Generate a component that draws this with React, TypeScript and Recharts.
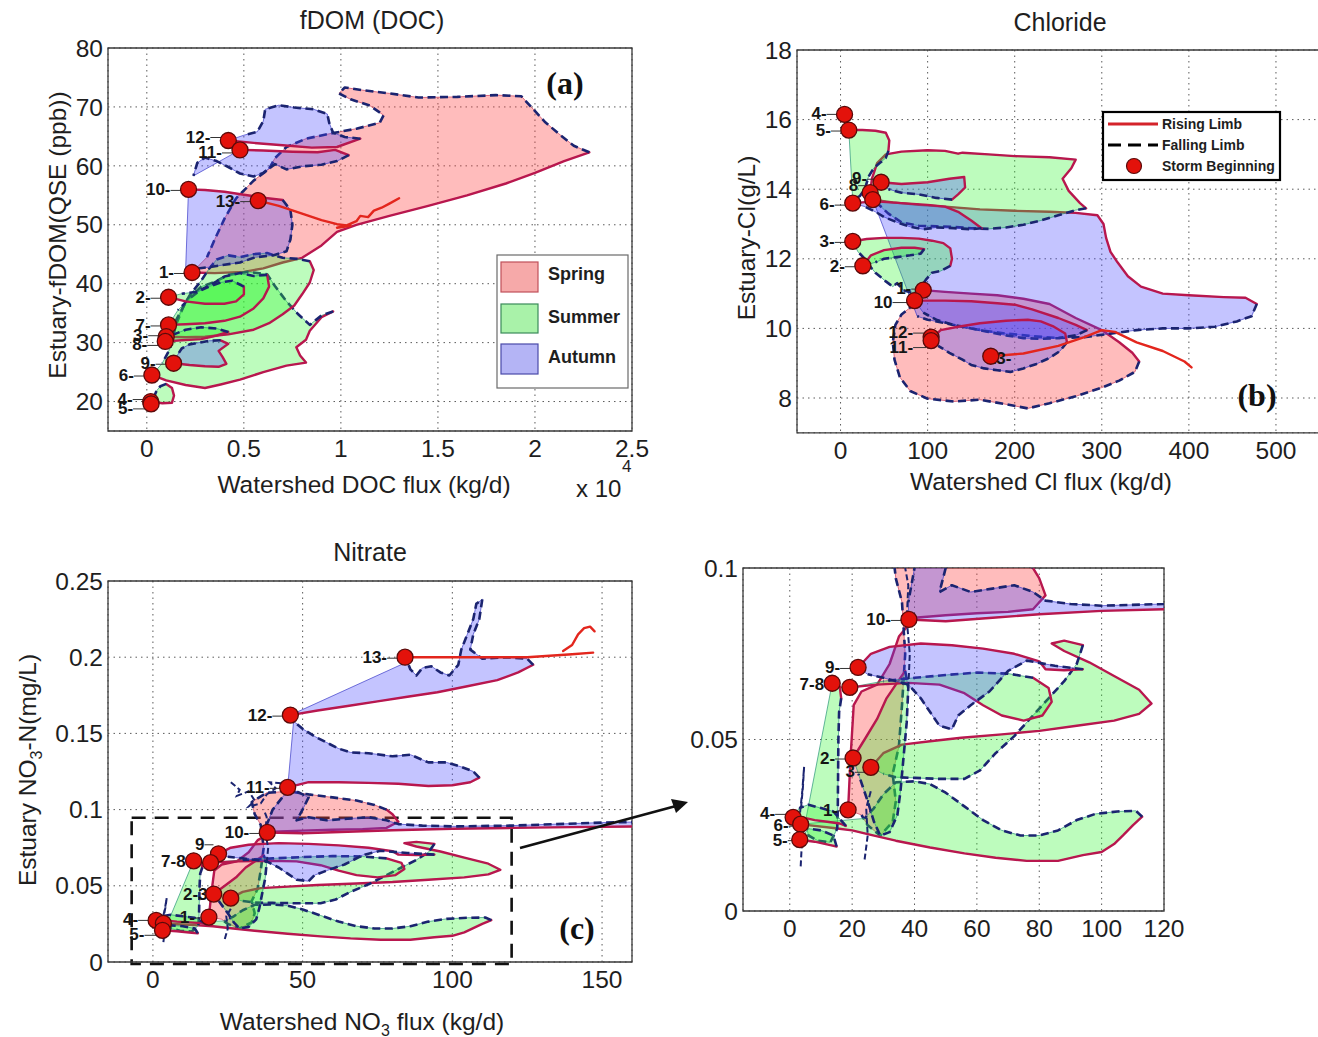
import React from 'react';
import { ScatterChart, Scatter, XAxis, YAxis, CartesianGrid, ReferenceArea } from 'recharts';

type Pt = [number, number];
type Season = 'spring' | 'summer' | 'autumn' | 'open' | 'trace';
interface Loop { storm: string; season: Season; rise: Pt[]; fall: Pt[] }
interface Start { storm: string; x: number; y: number }

// ---------- fDOM (DOC) ----------
const docXTicks = [0, 0.5, 1, 1.5, 2, 2.5];
const docYTicks = [20, 30, 40, 50, 60, 70, 80];

const docStarts: Start[] = [
  { storm: '12', x: 0.42, y: 64.3 },
  { storm: '11', x: 0.48, y: 62.7 },
  { storm: '10', x: 0.215, y: 56 },
  { storm: '13', x: 0.574, y: 54.1 },
  { storm: '1', x: 0.233, y: 41.9 },
  { storm: '2', x: 0.112, y: 37.7 },
  { storm: '7', x: 0.112, y: 33 },
  { storm: '3', x: 0.1, y: 31 },
  { storm: '8', x: 0.095, y: 30.2 },
  { storm: '9', x: 0.138, y: 26.5 },
  { storm: '6', x: 0.026, y: 24.5 },
  { storm: '4', x: 0.02, y: 20 },
  { storm: '5', x: 0.022, y: 19.6 },
];

const docLoops: Loop[] = [
  {
    storm: '1', season: 'spring',
    rise: [[0.233, 41.9], [0.35, 41.8], [0.5, 42], [0.6, 42.6], [0.7, 43.6], [0.8, 44.4], [0.9, 46.5], [0.98, 48.8], [1.08, 50], [1.25, 51.5], [1.45, 53.2], [1.65, 55], [1.85, 57], [2.0, 58.8], [2.15, 60.8], [2.28, 62.3]],
    fall: [[2.2, 63.4], [2.12, 65.5], [2.05, 67.5], [1.98, 70], [1.93, 71.8], [1.8, 72], [1.6, 71.7], [1.4, 71.6], [1.25, 72.3], [1.12, 72.8], [1.02, 73.3], [0.99, 72.3], [1.05, 71.3], [1.15, 70.2], [1.22, 68.6], [1.2, 67.3], [1.08, 66.3], [0.95, 65.5], [0.82, 64.6], [0.72, 63.2], [0.66, 61.3], [0.63, 59.5], [0.55, 57.5], [0.46, 54.5], [0.4, 51], [0.35, 47.5], [0.31, 44.5]],
  },
  {
    storm: '6', season: 'summer',
    rise: [[0.026, 24.5], [0.1, 23.6], [0.2, 22.8], [0.3, 22.3], [0.38, 22.9], [0.48, 23.7], [0.6, 25], [0.72, 26.1], [0.82, 26.6], [0.79, 27.8], [0.77, 29.2], [0.82, 30.5], [0.84, 32], [0.9, 34.3], [0.96, 35.3]],
    fall: [[0.9, 34.6], [0.84, 33], [0.78, 34.8], [0.72, 37], [0.66, 39.6], [0.62, 41.6], [0.52, 42], [0.42, 41.5], [0.35, 40.3], [0.28, 39.5], [0.2, 37], [0.15, 33], [0.12, 29], [0.08, 26.5]],
  },
  {
    storm: '3', season: 'summer',
    rise: [[0.1, 31], [0.2, 30.9], [0.3, 31], [0.42, 31.4], [0.55, 32.2], [0.63, 33.3], [0.7, 34.8], [0.76, 36.3], [0.8, 38.2], [0.84, 40.2], [0.86, 42.3], [0.84, 43.8]],
    fall: [[0.78, 44.2], [0.7, 44.4], [0.62, 45.2], [0.55, 45], [0.48, 44.5], [0.42, 44.8], [0.36, 44.1], [0.32, 42.5], [0.28, 40.5], [0.22, 38], [0.17, 35], [0.13, 32.5]],
  },
  {
    storm: '7', season: 'summer',
    rise: [[0.112, 33], [0.2, 33.1], [0.3, 33.3], [0.4, 33.7], [0.48, 34.4], [0.55, 35.8], [0.6, 37.5], [0.63, 39.5], [0.62, 41.5]],
    fall: [[0.55, 41.3], [0.48, 41.8], [0.4, 41.2], [0.34, 40], [0.28, 39], [0.22, 37.5], [0.16, 35.5]],
  },
  {
    storm: '2', season: 'summer',
    rise: [[0.112, 37.7], [0.2, 37], [0.3, 36.6], [0.4, 36.6], [0.46, 37], [0.5, 38.2], [0.5, 39.5]],
    fall: [[0.44, 40.5], [0.38, 40.2], [0.32, 39.5], [0.26, 38.6], [0.18, 38.3]],
  },
  {
    storm: '8', season: 'summer',
    rise: [[0.095, 30.2], [0.18, 30.4], [0.28, 30.6], [0.36, 31.2], [0.42, 31.8]],
    fall: [[0.36, 32.4], [0.28, 32.6], [0.2, 32.2], [0.14, 31.4]],
  },
  {
    storm: '9', season: 'autumn',
    rise: [[0.138, 26.5], [0.22, 26.2], [0.3, 26], [0.37, 25.9], [0.41, 26.4], [0.39, 27.6], [0.37, 28.6], [0.42, 29.8], [0.38, 30.4]],
    fall: [[0.32, 30.3], [0.27, 30], [0.22, 29.7], [0.18, 29], [0.16, 28]],
  },
  {
    storm: '4', season: 'summer',
    rise: [[0.02, 20], [0.08, 19.7], [0.13, 19.8], [0.14, 21], [0.13, 22.3], [0.1, 23]],
    fall: [[0.07, 22.6], [0.05, 21.8], [0.04, 21]],
  },
  {
    storm: '10', season: 'autumn',
    rise: [[0.215, 56], [0.3, 55.9], [0.4, 55.6], [0.5, 55.1], [0.6, 54.6], [0.7, 54.2]],
    fall: [[0.74, 52.5], [0.75, 50], [0.74, 47.5], [0.72, 45.5], [0.65, 44.8], [0.56, 44.5], [0.48, 43.6], [0.4, 43.2], [0.32, 42.8], [0.24, 42.5], [0.2, 42.2]],
  },
  {
    storm: '11', season: 'autumn',
    rise: [[0.48, 62.7], [0.6, 62.6], [0.75, 62.4], [0.88, 62.3], [0.97, 62.7], [1.04, 61.8]],
    fall: [[0.98, 60.8], [0.9, 60.2], [0.8, 59.9], [0.72, 59.4], [0.66, 60.3], [0.6, 58.8], [0.55, 58.2], [0.48, 58.7], [0.42, 59.8], [0.36, 60.8], [0.3, 61.4], [0.26, 60.5], [0.24, 58.3]],
  },
  {
    storm: '12', season: 'autumn',
    rise: [[0.42, 64.3], [0.55, 63.9], [0.7, 63.5], [0.85, 63.1], [0.98, 63.2], [1.1, 64.6]],
    fall: [[1.02, 64.9], [0.96, 65.6], [0.94, 67.3], [0.93, 68.8], [0.86, 69.6], [0.76, 69.9], [0.68, 70.3], [0.61, 69.6], [0.6, 67.6], [0.57, 65.8], [0.5, 65.2]],
  },
  {
    storm: '13', season: 'open',
    rise: [[0.574, 54.1], [0.68, 53.2], [0.8, 51.9], [0.9, 50.8], [0.98, 50.1], [1.05, 49.8], [0.98, 49.5], [1.03, 49.9], [1.08, 50.6], [1.1, 51.5], [1.14, 51.3], [1.17, 52.4], [1.21, 52.9], [1.25, 53.6], [1.3, 54.5]],
    fall: [],
  },
];

// ---------- Chloride ----------
const clXTicks = [0, 100, 200, 300, 400, 500];
const clYTicks = [8, 10, 12, 14, 16, 18];

const clStarts: Start[] = [
  { storm: '4', x: 4.6, y: 16.15 },
  { storm: '5', x: 9.5, y: 15.7 },
  { storm: '9', x: 46.6, y: 14.2 },
  { storm: '8', x: 34, y: 13.9 },
  { storm: '6', x: 14, y: 13.6 },
  { storm: '7', x: 37, y: 13.7 },
  { storm: '3', x: 14, y: 12.5 },
  { storm: '2', x: 25.6, y: 11.8 },
  { storm: '1', x: 95, y: 11.1 },
  { storm: '10', x: 85, y: 10.8 },
  { storm: '12', x: 104, y: 9.75 },
  { storm: '11', x: 104, y: 9.65 },
  { storm: '13', x: 172.5, y: 9.2 },
];

const clLoops: Loop[] = [
  {
    storm: '1', season: 'spring',
    rise: [[95, 11.1], [120, 11.05], [150, 11.0], [180, 10.95], [210, 10.85], [240, 10.7], [270, 10.3], [300, 9.95], [320, 9.6], [335, 9.3], [343, 9.05]],
    fall: [[338, 8.75], [320, 8.5], [300, 8.3], [270, 8.05], [240, 7.85], [215, 7.7], [190, 7.82], [160, 7.95], [130, 7.9], [100, 7.98], [80, 8.2], [68, 8.6], [62, 9.1], [60, 9.6], [63, 10.1], [70, 10.4], [80, 10.6]],
  },
  {
    storm: '7', season: 'autumn',
    rise: [[37, 13.7], [60, 13.62], [90, 13.55], [120, 13.5], [160, 13.42], [200, 13.38], [240, 13.35], [270, 13.32], [295, 13.25], [302, 13.0], [305, 12.6], [310, 12.2], [318, 11.9], [330, 11.5], [345, 11.2], [370, 11.0], [400, 10.95], [440, 10.9], [465, 10.88], [478, 10.7]],
    fall: [[472, 10.35], [455, 10.2], [430, 10.05], [400, 10.0], [370, 10.0], [340, 9.95], [310, 9.85], [280, 9.75], [250, 9.72], [220, 9.78], [190, 9.85], [160, 9.95], [130, 10.1], [100, 10.25], [88, 10.35]],
  },
  {
    storm: '8', season: 'summer',
    rise: [[34, 13.9], [36, 14.3], [42, 14.75], [52, 15.0], [70, 15.08], [100, 15.12], [120, 15.1], [135, 15.02], [140, 15.05], [170, 15.0], [200, 14.95], [240, 14.92], [270, 14.85], [265, 14.6], [255, 14.3], [262, 13.95], [275, 13.6], [282, 13.45]],
    fall: [[270, 13.4], [250, 13.25], [230, 13.1], [210, 12.98], [190, 12.9], [170, 12.86], [150, 12.88], [130, 12.92], [110, 12.93], [90, 12.95], [70, 13.05], [55, 13.3], [42, 13.6]],
  },
  {
    storm: '5', season: 'summer',
    rise: [[9.5, 15.7], [25, 15.7], [40, 15.68], [52, 15.62], [56, 15.4], [55, 15.1]],
    fall: [[52, 14.9], [45, 14.75], [38, 14.6], [32, 14.35], [28, 14.0], [22, 13.8], [14, 13.7]],
  },
  {
    storm: '6', season: 'autumn',
    rise: [[14, 13.6], [40, 13.65], [70, 13.6], [100, 13.55], [120, 13.5], [135, 13.35], [150, 13.1], [162, 12.88]],
    fall: [[150, 12.85], [130, 12.88], [110, 12.9], [95, 12.85], [80, 12.92], [65, 13.05], [50, 13.2], [40, 13.35], [28, 13.5]],
  },
  {
    storm: '9', season: 'autumn',
    rise: [[46.6, 14.2], [70, 14.15], [100, 14.2], [125, 14.3], [142, 14.35], [143, 14.05], [135, 13.85], [128, 13.7]],
    fall: [[110, 13.75], [90, 13.85], [70, 13.9], [55, 14.0]],
  },
  {
    storm: '3', season: 'summer',
    rise: [[14, 12.5], [30, 12.57], [50, 12.6], [70, 12.6], [90, 12.58], [105, 12.52], [118, 12.45], [126, 12.3], [128, 12.0], [126, 11.8]],
    fall: [[115, 11.65], [105, 11.6], [98, 11.4], [90, 11.1], [82, 11.02], [72, 11.1], [65, 11.3], [60, 11.2], [52, 11.35], [45, 11.5], [40, 11.6], [35, 11.75], [28, 12.0], [20, 12.2]],
  },
  {
    storm: '2', season: 'summer',
    rise: [[25.6, 11.8], [35, 12.1], [50, 12.25], [70, 12.32], [85, 12.32], [96, 12.28]],
    fall: [[92, 12.15], [80, 12.1], [65, 12.05], [50, 12.0], [40, 11.9]],
  },
  {
    storm: '10', season: 'autumn',
    rise: [[85, 10.8], [120, 10.8], [150, 10.78], [180, 10.72], [200, 10.68], [220, 10.55], [250, 10.3], [270, 10.1], [283, 9.95]],
    fall: [[270, 9.8], [250, 9.72], [230, 9.7], [210, 9.72], [190, 9.8], [170, 9.9], [150, 10.0], [130, 10.1], [110, 10.25], [95, 10.45]],
  },
  {
    storm: '11', season: 'autumn',
    rise: [[104, 9.7], [115, 9.95], [135, 10.05], [160, 10.15], [190, 10.22], [215, 10.25], [230, 10.2], [245, 10.05], [258, 9.85], [260, 9.6]],
    fall: [[252, 9.35], [240, 9.15], [225, 8.98], [210, 8.85], [195, 8.75], [180, 8.8], [165, 8.85], [150, 8.95], [140, 9.1], [125, 9.3], [112, 9.5]],
  },
  {
    storm: '13', season: 'open',
    rise: [[172.5, 9.2], [210, 9.28], [250, 9.5], [280, 9.75], [300, 9.95], [315, 9.9], [340, 9.6], [370, 9.35], [395, 9.05], [403, 8.88]],
    fall: [],
  },
];

// ---------- Nitrate (also used for the enlarged low-range view) ----------
const no3XTicks = [0, 50, 100, 150];
const no3YTicks = [0, 0.05, 0.1, 0.15, 0.2, 0.25];
const zoomXTicks = [0, 20, 40, 60, 80, 100, 120];
const zoomYTicks = [0, 0.05, 0.1];

const no3Starts: Start[] = [
  { storm: '13', x: 84.2, y: 0.2 },
  { storm: '12', x: 45.9, y: 0.162 },
  { storm: '11', x: 45, y: 0.1146 },
  { storm: '10', x: 38.2, y: 0.085 },
  { storm: '9', x: 21.9, y: 0.071 },
  { storm: '7', x: 13.6, y: 0.0664 },
  { storm: '8', x: 19.25, y: 0.0652 },
  { storm: '2', x: 20.3, y: 0.0446 },
  { storm: '3', x: 26, y: 0.0419 },
  { storm: '1', x: 18.7, y: 0.0295 },
  { storm: '4', x: 1.07, y: 0.0273 },
  { storm: '6', x: 3.5, y: 0.0253 },
  { storm: '5', x: 3.2, y: 0.0208 },
];

const no3Loops: Loop[] = [
  {
    storm: '1', season: 'spring',
    rise: [[18.7, 0.0295], [19.5, 0.045], [20.5, 0.06], [23, 0.064], [28, 0.066], [32, 0.072], [35, 0.08], [40, 0.0855], [50, 0.0862], [60, 0.0868], [70, 0.0872], [78, 0.088], [82, 0.092], [80, 0.097], [78, 0.1]],
    fall: [[74, 0.103], [68, 0.106], [60, 0.108], [52, 0.11], [45, 0.112], [38, 0.111], [33, 0.105], [34, 0.097], [36, 0.09], [37, 0.075], [36, 0.06], [35, 0.048], [33, 0.04], [34, 0.032], [33, 0.026], [29, 0.022], [25, 0.025], [23, 0.028]],
  },
  {
    storm: '6', season: 'summer',
    rise: [[3.5, 0.0253], [8, 0.0248], [14, 0.0242], [20, 0.0235], [26, 0.0222], [34, 0.0205], [45, 0.0185], [56, 0.0168], [66, 0.0155], [76, 0.0146], [86, 0.0146], [94, 0.0163], [100, 0.0172], [104, 0.0195], [107, 0.0222], [110, 0.025], [113, 0.0275]],
    fall: [[111, 0.0292], [105, 0.029], [98, 0.0283], [92, 0.0265], [86, 0.0235], [80, 0.022], [74, 0.022], [68, 0.0235], [62, 0.0265], [56, 0.0305], [50, 0.0345], [45, 0.037], [40, 0.0378], [34, 0.0375], [30, 0.034], [27, 0.03], [24, 0.027]],
  },
  {
    storm: '3', season: 'summer',
    rise: [[26, 0.0419], [30, 0.046], [36, 0.0485], [45, 0.0495], [55, 0.0505], [68, 0.0515], [80, 0.0525], [92, 0.054], [104, 0.0555], [112, 0.0575], [116, 0.0605], [112, 0.0645], [104, 0.0685], [96, 0.0725], [88, 0.0758], [84, 0.078], [88, 0.0788], [94, 0.0775]],
    fall: [[92, 0.072], [88, 0.067], [83, 0.062], [78, 0.057], [72, 0.051], [66, 0.046], [61, 0.041], [56, 0.0385], [48, 0.0385], [40, 0.0388], [34, 0.039], [30, 0.04]],
  },
  {
    storm: '2', season: 'summer',
    rise: [[20.3, 0.0446], [24, 0.05], [28, 0.056], [31, 0.062], [34, 0.066], [37, 0.07]],
    fall: [[38, 0.065], [37.5, 0.055], [36.5, 0.045], [35.5, 0.035], [34.5, 0.028], [32, 0.023], [29, 0.022], [27, 0.026], [25, 0.032], [22, 0.04]],
  },
  {
    storm: '7', season: 'summer',
    rise: [[13.6, 0.0664], [16, 0.0655], [16.5, 0.062]],
    fall: [[15.8, 0.058], [15.6, 0.05], [15.5, 0.04], [15.4, 0.03], [15.2, 0.024], [13, 0.02], [9, 0.0205], [6, 0.022], [5, 0.026]],
  },
  {
    storm: '4', season: 'summer',
    rise: [[1.07, 0.0273], [4, 0.0273], [8, 0.0265], [12, 0.026], [16, 0.0255], [18, 0.0248]],
    fall: [[14, 0.029], [10, 0.03], [6, 0.031], [3, 0.03]],
  },
  {
    storm: '5', season: 'summer',
    rise: [[3.2, 0.0208], [8, 0.0202], [13, 0.0192], [15, 0.0188]],
    fall: [[14, 0.022], [10, 0.0235], [6, 0.024]],
  },
  {
    storm: '8', season: 'summer',
    rise: [[19.25, 0.0652], [28, 0.066], [38, 0.0665], [48, 0.066], [56, 0.0635], [62, 0.06], [68, 0.057], [75, 0.0555], [81, 0.057], [84, 0.061], [83, 0.065], [78, 0.068]],
    fall: [[70, 0.0692], [60, 0.0695], [50, 0.0688], [40, 0.068], [30, 0.067]],
  },
  {
    storm: '9', season: 'autumn',
    rise: [[21.9, 0.071], [26, 0.075], [32, 0.077], [42, 0.078], [52, 0.0775], [62, 0.0765], [72, 0.075], [80, 0.0728], [82, 0.0705], [88, 0.0702], [94, 0.0705]],
    fall: [[85, 0.0715], [76, 0.073], [70, 0.07], [64, 0.064], [58, 0.06], [54, 0.057], [52, 0.053], [48, 0.054], [45, 0.058], [42, 0.062], [38, 0.066], [30, 0.068], [25, 0.069]],
  },
  {
    storm: '10', season: 'autumn',
    rise: [[38.2, 0.085], [50, 0.0845], [65, 0.0855], [80, 0.0865], [100, 0.0875], [120, 0.088], [140, 0.0885], [165, 0.089]],
    fall: [[165, 0.092], [150, 0.0915], [135, 0.0905], [120, 0.0895], [100, 0.089], [90, 0.0895], [82, 0.0905], [78, 0.093], [72, 0.095], [65, 0.094], [58, 0.093], [52, 0.095], [48, 0.093], [50, 0.1], [52, 0.108], [48, 0.112], [44, 0.11], [40, 0.1], [38, 0.09]],
  },
  {
    storm: '11', season: 'autumn',
    rise: [[45, 0.1146], [52, 0.118], [62, 0.118], [72, 0.1175], [82, 0.117], [92, 0.1155], [100, 0.116], [106, 0.118], [109, 0.121]],
    fall: [[107, 0.125], [103, 0.128], [98, 0.131], [92, 0.131], [86, 0.136], [80, 0.135], [72, 0.137], [66, 0.1375], [62, 0.14], [58, 0.144], [54, 0.148], [50, 0.153], [47, 0.158]],
  },
  {
    storm: '12', season: 'autumn',
    rise: [[45.9, 0.162], [55, 0.165], [65, 0.168], [75, 0.171], [85, 0.174], [95, 0.177], [105, 0.181], [115, 0.185], [122, 0.19], [127, 0.195]],
    fall: [[125, 0.199], [118, 0.2], [110, 0.199], [106, 0.205], [107, 0.215], [109, 0.225], [110, 0.238], [108, 0.235], [107, 0.225], [105, 0.215], [103, 0.205], [102, 0.195], [99, 0.188], [96, 0.19], [93, 0.194], [90, 0.193], [88, 0.188], [86, 0.192], [85, 0.197]],
  },
  {
    storm: '13', season: 'open',
    rise: [[84.2, 0.2], [95, 0.2], [110, 0.2], [125, 0.2], [140, 0.202], [147, 0.203]],
    fall: [],
  },
  {
    storm: '13b', season: 'open',
    rise: [[137, 0.204], [140, 0.208], [142, 0.215], [144, 0.219], [146, 0.22], [147.5, 0.217]],
    fall: [],
  },
  // short falling-limb traces that never close into a loop
  {
    storm: 't1', season: 'trace',
    rise: [[26, 0.118], [29, 0.113], [28, 0.109], [32, 0.112], [34, 0.106], [32, 0.102], [36, 0.104], [38, 0.11], [41, 0.114], [39, 0.118], [44, 0.117]],
    fall: [],
  },
  {
    storm: 't2', season: 'trace',
    rise: [[3.5, 0.013], [3.9, 0.02], [3.2, 0.028], [4, 0.035], [4.6, 0.042], [4.2, 0.036], [3.6, 0.03]],
    fall: [],
  },
  {
    storm: 't3', season: 'trace',
    rise: [[24, 0.015], [25, 0.022], [24.5, 0.03], [26, 0.035]],
    fall: [],
  },
  {
    storm: 't4', season: 'trace',
    rise: [[38, 0.065], [38.5, 0.075], [37.5, 0.085], [38, 0.095], [37, 0.1]],
    fall: [],
  },
];

// ---------- styling ----------
const FONT = '"Liberation Sans", Arial, sans-serif';
const SERIF = '"Liberation Serif", "DejaVu Serif", serif';
const FILL: Record<Season, string> = {
  spring: 'rgba(255, 70, 70, 0.36)',
  summer: 'rgba(50, 245, 50, 0.32)',
  autumn: 'rgba(70, 70, 255, 0.32)',
  open: 'none',
  trace: 'none',
};
const EDGE: Record<Season, string> = {
  spring: 'rgba(200, 60, 90, 0.7)',
  summer: 'rgba(40, 150, 120, 0.7)',
  autumn: 'rgba(60, 60, 200, 0.7)',
  open: 'none',
  trace: 'none',
};
const RISE = '#b8174e';
const OPEN_RISE = '#e3261d';
const FALL = '#1b2470';

const toPath = (pts: { x: number; y: number }[]) =>
  pts.map((p, i) => `${i ? 'L' : 'M'}${p.x.toFixed(1)},${p.y.toFixed(1)}`).join(' ');

const rows = (loop: Loop) => [...loop.rise, ...loop.fall].map(([x, y]) => ({ x, y }));

const noDot = () => <g />;

// fill the loop, then stroke the rising limb solid and the falling limb dashed
const loopRenderer = (loop: Loop) => (props: any) => {
  const pts = (props.points ?? []).filter((p: any) => p && Number.isFinite(p.x) && Number.isFinite(p.y));
  if (pts.length < 2) return <g />;
  if (loop.season === 'trace') {
    return <path d={toPath(pts)} fill="none" stroke={FALL} strokeWidth={2} strokeDasharray="6 3" />;
  }
  const n = loop.rise.length;
  const risePts = pts.slice(0, n);
  const fallPts = pts.slice(n - 1);
  const closed = loop.season !== 'open';
  return (
    <g>
      {closed && (
        <path d={toPath(pts) + ' Z'} fill={FILL[loop.season]} stroke={EDGE[loop.season]} strokeWidth={1} />
      )}
      <path d={toPath(risePts)} fill="none" stroke={closed ? RISE : OPEN_RISE}
        strokeWidth={2.4} strokeLinejoin="round" strokeLinecap="round" />
      {fallPts.length > 1 && (
        <path d={toPath(fallPts)} fill="none" stroke={FALL} strokeWidth={2.6} strokeDasharray="8 4.5" strokeLinejoin="round" />
      )}
    </g>
  );
};

// [dx, dy, text starts after the marker]
type Nudge = Record<string, [number, number, boolean?]>;

const markerShape = (labels: Record<string, string>, nudge: Nudge) => (p: any) => {
  const { cx, cy, payload } = p;
  if (!Number.isFinite(cx) || !Number.isFinite(cy)) return <g />;
  const id = payload.storm;
  const text = labels[id] ?? `${id}-`;
  const [dx, dy, after] = nudge[id] ?? [-18, 6, false];
  return (
    <g>
      {text && !after && (
        <line x1={cx + dx} y1={cy + dy - 5} x2={cx - 5} y2={cy + dy - 5} stroke="#333" strokeWidth={1} />
      )}
      {text && (
        <text x={cx + dx} y={cy + dy} textAnchor={after ? 'start' : 'end'} fontSize={17} fontWeight={700}
          fill="#151515" fontFamily={FONT}>{text}</text>
      )}
      <circle cx={cx} cy={cy} r={8} fill="#e3120b" stroke="#5a0a0a" strokeWidth={1.3} />
    </g>
  );
};

interface PanelProps {
  left: number; top: number; width: number; height: number;
  margin: { top: number; right: number; bottom: number; left: number };
  xDomain: [number, number]; yDomain: [number, number];
  xTicks: number[]; yTicks: number[];
  loops: Loop[]; starts: Start[];
  labels: Record<string, string>; nudge: Nudge;
  extra?: React.ReactNode;
}

const tickStyle = { fontSize: 24.5, fill: '#1e1e1e', fontFamily: FONT };

function Panel(props: PanelProps) {
  const { left, top, width, height, margin, xDomain, yDomain, xTicks, yTicks, loops, starts, labels, nudge, extra } = props;
  return (
    <div style={{ position: 'absolute', left, top, width, height }}>
      <ScatterChart width={width} height={height} margin={margin}>
        <CartesianGrid stroke="#5a5a5a" strokeDasharray="1.5 4" strokeWidth={1} />
        <XAxis type="number" dataKey="x" domain={xDomain} ticks={xTicks} interval={0} allowDataOverflow
          axisLine={false} tickLine={false} tickSize={6} tickMargin={3} height={40} tick={tickStyle} />
        <YAxis type="number" dataKey="y" domain={yDomain} ticks={yTicks} interval={0} allowDataOverflow
          axisLine={false} tickLine={false} tickSize={4} tickMargin={1} width={70} tick={tickStyle} />
        {loops.map((loop) => (
          <Scatter key={`loop-${loop.storm}`} data={rows(loop)} shape={noDot} line={loopRenderer(loop)}
            lineType="joint" isAnimationActive={false} />
        ))}
        {extra}
        <Scatter data={starts} shape={markerShape(labels, nudge)} isAnimationActive={false} />
        <ReferenceArea x1={xDomain[0]} x2={xDomain[1]} y1={yDomain[0]} y2={yDomain[1]} fill="none"
          stroke="#3a3a3a" strokeWidth={1.3} ifOverflow="visible" />
      </ScatterChart>
    </div>
  );
}

const docLabels: Record<string, string> = {};
const docNudge: Nudge = { '12': [-18, 2], '11': [-18, 8], '3': [-18, 4], '8': [-18, 9], '4': [-18, 3], '5': [-18, 10] };

const clLabels: Record<string, string> = { '7': '', '8': '8', '9': '9-', '13': '13-', '10': '10' };
const clNudge: Nudge = {
  '4': [-18, 5], '9': [-14, 2], '8': [-12, -2], '6': [-18, 7], '12': [-18, 1], '11': [-18, 12],
  '13': [-4, 8, true], '1': [-12, 4], '10': [-22, 7],
};

const no3Labels: Record<string, string> = { '7': '7-8', '8': '', '2': '2-3', '3': '', '6': '', '9': '9', '1': '1-' };
const no3Nudge: Nudge = { '9': [-14, -4], '4': [-18, 5], '5': [-18, 10], '7': [-8, 6], '2': [-6, 6], '1': [-14, 6] };

const zoomLabels: Record<string, string> = { '7': '7-8', '8': '', '3': '3', '1': '1-' };
const zoomNudge: Nudge = { '3': [-16, 10], '1': [-10, 6], '7': [-8, 7], '4': [-18, 2], '6': [-12, 7], '5': [-12, 6] };

const T = { fontFamily: FONT, fill: '#1e1e1e' };

export default function App() {
  return (
    <div style={{ position: 'absolute', left: 0, top: 0, width: 1318, height: 1037, overflow: 'hidden', background: '#fff', fontFamily: FONT }}>
      <Panel left={0} top={0} width={660} height={500} margin={{ top: 48, right: 28, bottom: 29, left: 38 }}
        xDomain={[-0.2, 2.5]} yDomain={[15, 80]} xTicks={docXTicks} yTicks={docYTicks}
        loops={docLoops} starts={docStarts} labels={docLabels} nudge={docNudge} />
      <Panel left={660} top={0} width={662} height={500} margin={{ top: 50, right: 2.5, bottom: 27.2, left: 67 }}
        xDomain={[-50, 550]} yDomain={[7, 18]} xTicks={clXTicks} yTicks={clYTicks}
        loops={clLoops} starts={clStarts} labels={clLabels} nudge={clNudge} />
      <Panel left={0} top={520} width={660} height={517} margin={{ top: 61, right: 28, bottom: 35, left: 38 }}
        xDomain={[-15, 160]} yDomain={[0, 0.25]} xTicks={no3XTicks} yTicks={no3YTicks}
        loops={no3Loops} starts={no3Starts} labels={no3Labels} nudge={no3Nudge}
        extra={<ReferenceArea x1={-7.1} x2={119.8} y1={-0.0013} y2={0.0947} fill="none" stroke="#111"
          strokeWidth={2.6} strokeDasharray="14 9" ifOverflow="visible" />} />
      <Panel left={660} top={540} width={560} height={420} margin={{ top: 28, right: 56, bottom: 9, left: 13 }}
        xDomain={[-15, 120]} yDomain={[0, 0.1]} xTicks={zoomXTicks} yTicks={zoomYTicks}
        loops={no3Loops} starts={no3Starts} labels={zoomLabels} nudge={zoomNudge} />

      <svg width={1318} height={1037} style={{ position: 'absolute', left: 0, top: 0, pointerEvents: 'none' }}>
        {/* titles */}
        <text x={372} y={29} textAnchor="middle" fontSize={25} {...T}>fDOM (DOC)</text>
        <text x={1060} y={31} textAnchor="middle" fontSize={25} {...T}>Chloride</text>
        <text x={370} y={561} textAnchor="middle" fontSize={25} {...T}>Nitrate</text>

        {/* axis titles */}
        <text x={364} y={493} textAnchor="middle" fontSize={24.5} {...T}>Watershed DOC flux (kg/d)</text>
        <text x={576} y={497} fontSize={24} {...T}>x 10</text>
        <text x={622} y={472} fontSize={17} {...T}>4</text>
        <text transform="translate(66,235) rotate(-90)" textAnchor="middle" fontSize={24.5} {...T}>Estuary-fDOM(QSE (ppb))</text>

        <text x={1041} y={490} textAnchor="middle" fontSize={24.5} {...T}>Watershed Cl flux (kg/d)</text>
        <text transform="translate(755,238) rotate(-90)" textAnchor="middle" fontSize={24.5} {...T}>Estuary-Cl(g/L)</text>

        <text x={362} y={1030} textAnchor="middle" fontSize={24.5} {...T}>
          Watershed NO<tspan fontSize={16} dy={6}>3</tspan><tspan dy={-6}> flux (kg/d)</tspan>
        </text>
        <text transform="translate(36,770) rotate(-90)" textAnchor="middle" fontSize={24.5} {...T}>
          Estuary NO<tspan fontSize={16} dy={6}>3</tspan><tspan dy={-6}>-N(mg/L)</tspan>
        </text>

        {/* panel letters */}
        <text x={565} y={94} textAnchor="middle" fontSize={32} fontWeight={700} fontFamily={SERIF} fill="#111">(a)</text>
        <text x={1257} y={406} textAnchor="middle" fontSize={32} fontWeight={700} fontFamily={SERIF} fill="#111">(b)</text>
        <text x={577} y={939} textAnchor="middle" fontSize={32} fontWeight={700} fontFamily={SERIF} fill="#111">(c)</text>

        {/* season legend */}
        <rect x={497} y={255} width={131} height={133} fill="#fff" stroke="#6a6a6a" strokeWidth={1.2} />
        <rect x={501} y={262} width={37} height={30} fill="#f6a9a9" stroke="#c0505a" strokeWidth={1.2} />
        <rect x={501} y={304} width={37} height={29} fill="#a9f2a9" stroke="#3b8a5a" strokeWidth={1.2} />
        <rect x={501} y={344} width={37} height={30} fill="#b4b4f5" stroke="#4a4aa8" strokeWidth={1.2} />
        <text x={548} y={280} fontSize={18} fontWeight={700} {...T}>Spring</text>
        <text x={548} y={323} fontSize={18} fontWeight={700} {...T}>Summer</text>
        <text x={548} y={363} fontSize={18} fontWeight={700} {...T}>Autumn</text>

        {/* limb legend */}
        <rect x={1103} y={112} width={177} height={68} fill="#fff" stroke="#000" strokeWidth={2.2} />
        <line x1={1108} y1={124} x2={1158} y2={124} stroke="#d4232a" strokeWidth={3} />
        <line x1={1108} y1={145} x2={1158} y2={145} stroke="#000" strokeWidth={3} strokeDasharray="13 7" />
        <circle cx={1134} cy={166} r={7.5} fill="#e3120b" stroke="#5a0a0a" strokeWidth={1.2} />
        <text x={1162} y={129} fontSize={14} fontWeight={700} {...T}>Rising Limb</text>
        <text x={1162} y={150} fontSize={14} fontWeight={700} {...T}>Falling Limb</text>
        <text x={1162} y={171} fontSize={14} fontWeight={700} {...T}>Storm Beginning</text>

        {/* pointer to the enlarged view */}
        <line x1={520} y1={848} x2={676} y2={806} stroke="#111" strokeWidth={2.6} />
        <polygon points="688,802 671,799 676,813" fill="#111" />
      </svg>
    </div>
  );
}
